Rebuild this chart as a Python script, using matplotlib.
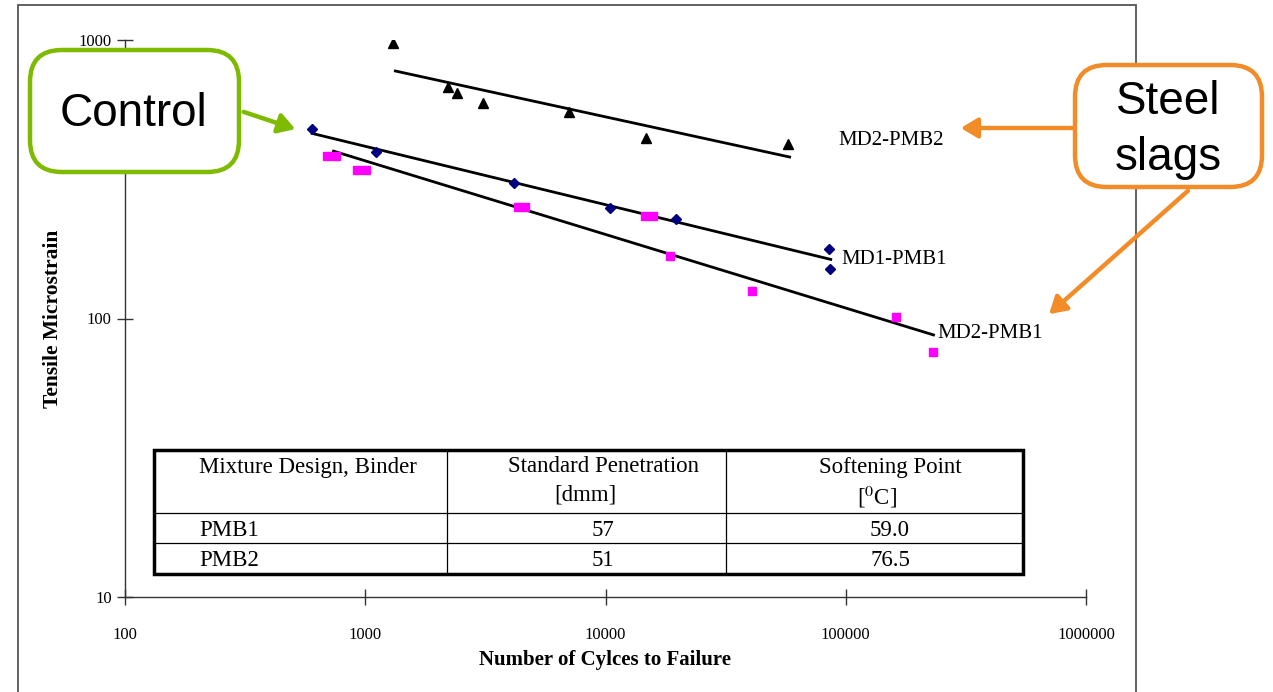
import numpy as np
import matplotlib
matplotlib.use("Agg")
import matplotlib.pyplot as plt
from matplotlib.patches import FancyBboxPatch, Rectangle, FancyArrowPatch
from matplotlib.lines import Line2D

W, H = 1273, 692

# --- data ---
md2_pmb2_x = [1310, 2200, 2420, 3100, 7080, 14800, 57300]
md2_pmb2_y = [975, 678, 645, 594, 551, 445, 423]
md2_pmb2_fit_x = [1334, 58400]
md2_pmb2_fit_y = [774, 380]

md1_pmb1_x = [601, 1108, 4150, 10490, 19580, 85200, 85800]
md1_pmb1_y = [478, 395, 306, 249, 227, 178, 150]
md1_pmb1_fit_x = [601, 86600]
md1_pmb1_fit_y = [462, 163]

md2_pmb1_x = [694, 757, 926, 1010, 4340, 4640, 14540, 15700, 18530, 40570, 161500, 229700]
md2_pmb1_y = [383, 383, 341, 341, 252, 252, 234, 234, 167.6, 125.6, 101, 76]
md2_pmb1_fit_x = [738, 231900]
md2_pmb1_fit_y = [399, 87.3]

table_header = ["Mixture Design, Binder", "Standard Penetration", "Softening Point"]
table_units = ["", "[dmm]", r"[$^{0}$C]"]
table_rows = [["PMB1", "57", "59.0"], ["PMB2", "51", "76.5"]]

plt.rcParams["font.family"] = ["Liberation Serif", "DejaVu Serif"]
plt.rcParams["mathtext.fontset"] = "stix"

fig = plt.figure(figsize=(W / 100, H / 100), dpi=100)
fig.patch.set_facecolor("white")

def fx(px): return px / W
def fy(py): return 1 - py / H

ax = fig.add_axes([fx(125), fy(597), fx(1086) - fx(125), fy(40) - fy(597)])
ax.set_xscale("log"); ax.set_yscale("log")
ax.set_xlim(100, 1e6); ax.set_ylim(10, 1000)
for s in ("top", "right"):
    ax.spines[s].set_visible(False)
for s in ("left", "bottom"):
    ax.spines[s].set_color("#333333"); ax.spines[s].set_linewidth(1.0)
ax.set_xticks([100, 1000, 10000, 100000, 1000000])
ax.set_xticklabels(["100", "1000", "10000", "100000", "1000000"])
ax.set_yticks([10, 100, 1000])
ax.set_yticklabels(["10", "100", "1000"])
ax.minorticks_off()
ax.tick_params(axis="both", direction="inout", length=11, width=1.0, color="#333333", labelsize=12)
ax.tick_params(axis="x", pad=16)
ax.tick_params(axis="y", pad=4)

ax.plot(md2_pmb2_fit_x, md2_pmb2_fit_y, "k-", lw=2)
ax.plot(md1_pmb1_fit_x, md1_pmb1_fit_y, "k-", lw=2)
ax.plot(md2_pmb1_fit_x, md2_pmb1_fit_y, "k-", lw=2)
ax.plot(md2_pmb2_x, md2_pmb2_y, "k^", ms=6.5, ls="none")
ax.plot(md1_pmb1_x, md1_pmb1_y, "D", color="#000080", ms=5, ls="none")
ax.plot(md2_pmb1_x, md2_pmb1_y, "s", color="#FF00FF", ms=5.5, ls="none")

ax.text(93500, 436, "MD2-PMB2", fontsize=15, va="center", ha="left")
ax.text(96000, 163, "MD1-PMB1", fontsize=15, va="center", ha="left")
ax.text(241000, 88, "MD2-PMB1", fontsize=15, va="center", ha="left")

ax.set_xlabel("Number of Cylces to Failure", fontsize=15, fontweight="bold")
ax.set_ylabel("Tensile Microstrain", fontsize=15.5, fontweight="bold")
ax.xaxis.set_label_coords((fx(605) - fx(125)) / (fx(1086) - fx(125)), -0.096)
ax.yaxis.set_label_coords((63 - 125) / (1086 - 125), 0.5)

# outer frame
fig.add_artist(Rectangle((fx(18), fy(720)), fx(1136) - fx(18), fy(5) - fy(720),
                         transform=fig.transFigure, fill=False, ec="#555555", lw=1.3))

# table
tx0, tx1, ty0, ty1 = 154, 1023, 450, 574
cols = [154, 447, 726, 1023]
rows_y = [450, 513, 543, 574]
fs_t = 16.5
fig.add_artist(Rectangle((fx(tx0), fy(ty1)), fx(tx1) - fx(tx0), fy(ty0) - fy(ty1),
                         transform=fig.transFigure, fc="white", ec="black", lw=2.5, zorder=5))
for c in cols[1:-1]:
    fig.add_artist(Line2D([fx(c), fx(c)], [fy(ty0), fy(ty1)], transform=fig.transFigure,
                          color="black", lw=0.9, zorder=6))
for r in rows_y[1:-1]:
    fig.add_artist(Line2D([fx(tx0), fx(tx1)], [fy(r), fy(r)], transform=fig.transFigure,
                          color="black", lw=0.9, zorder=6))
fig.text(fx(199), fy(467), table_header[0], fontsize=fs_t, va="center", ha="left", zorder=7)
fig.text(fx(603), fy(467), table_header[1], fontsize=fs_t, va="center", ha="center", zorder=7)
fig.text(fx(890), fy(467), table_header[2], fontsize=fs_t, va="center", ha="center", zorder=7)
fig.text(fx(585), fy(495), table_units[1], fontsize=fs_t, va="center", ha="center", zorder=7)
fig.text(fx(877), fy(497), table_units[2], fontsize=fs_t, va="center", ha="center", zorder=7)
for i, row in enumerate(table_rows):
    yc = (rows_y[i + 1] + rows_y[i + 2]) / 2 + 2
    fig.text(fx(199), fy(yc), row[0], fontsize=fs_t, va="center", ha="left", zorder=7)
    fig.text(fx(603), fy(yc), row[1], fontsize=fs_t, va="center", ha="center", zorder=7)
    fig.text(fx(890), fy(yc), row[2], fontsize=fs_t, va="center", ha="center", zorder=7)

# callouts
green, orange = "#7DBA00", "#F28C28"
fig.add_artist(FancyBboxPatch((fx(30), fy(172)), fx(239) - fx(30), fy(50) - fy(172),
                              boxstyle="round,pad=0,rounding_size=0.025", transform=fig.transFigure,
                              fc="white", ec=green, lw=3.2, mutation_aspect=W / H, zorder=8))
fig.text(fx(134), fy(114), "Control", fontsize=33, family="Liberation Sans",
         ha="center", va="center", zorder=9)
fig.add_artist(FancyArrowPatch((fx(241), fy(111)), (fx(298), fy(130)), transform=fig.transFigure,
                               arrowstyle="-|>,head_length=10,head_width=6", color=green, lw=3.2, zorder=8))

fig.add_artist(FancyBboxPatch((fx(1075), fy(187)), fx(1262) - fx(1075), fy(65) - fy(187),
                              boxstyle="round,pad=0,rounding_size=0.025", transform=fig.transFigure,
                              fc="white", ec=orange, lw=3.2, mutation_aspect=W / H, zorder=8))
fig.text(fx(1168), fy(130), "Steel\nslags", fontsize=33, family="Liberation Sans",
         ha="center", va="center", linespacing=1.38, zorder=9)
fig.add_artist(FancyArrowPatch((fx(1075), fy(128)), (fx(958), fy(128)), transform=fig.transFigure,
                               arrowstyle="-|>,head_length=10,head_width=6", color=orange, lw=3.2, zorder=8))
fig.add_artist(FancyArrowPatch((fx(1190), fy(189)), (fx(1047), fy(316)), transform=fig.transFigure,
                               arrowstyle="-|>,head_length=10,head_width=6", color=orange, lw=3.2, zorder=8))

fig.savefig("out.png", dpi=100)
